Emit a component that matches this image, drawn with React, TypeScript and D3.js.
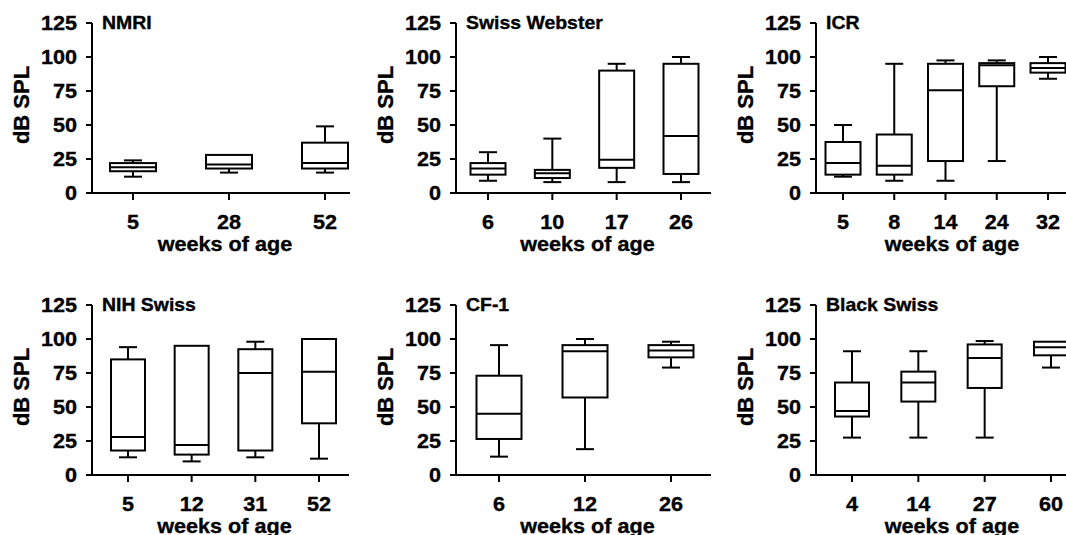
import * as d3 from "d3"
import React from "react"

// five-number summaries: [min, q1, median, q3, max] in dB SPL
const nmriWeeks = ["5", "28", "52"]
const nmriStats = [
  [12, 16, 19, 22, 24],
  [15, 18, 21, 28, 28],
  [15, 18, 22, 37, 49],
]

const swissWebsterWeeks = ["6", "10", "17", "26"]
const swissWebsterStats = [
  [9, 13.5, 18, 22, 30],
  [8, 11, 14.5, 17, 40],
  [8, 18.5, 24.5, 90, 95],
  [8, 14, 42, 95, 100],
]

const icrWeeks = ["5", "8", "14", "24", "32"]
const icrStats = [
  [12, 13.5, 22, 37.5, 50],
  [9, 13.5, 20, 43, 95],
  [9, 23.5, 75.5, 95, 97.5],
  [23.5, 78.5, 94, 95.5, 97.5],
  [84, 88.5, 92, 95.5, 100],
]

const nihWeeks = ["5", "12", "31", "52"]
const nihStats = [
  [13, 18, 28, 85, 94],
  [10, 15, 22, 95, 95],
  [13, 18, 75, 92.5, 98],
  [12, 38, 76, 100, 100],
]

const cf1Weeks = ["6", "12", "26"]
const cf1Stats = [
  [13.5, 26.5, 45, 73, 95.5],
  [19, 57, 91, 95.5, 100],
  [79, 86.5, 91.5, 95.5, 98],
]

const blackSwissWeeks = ["4", "14", "27", "60"]
const blackSwissStats = [
  [27.5, 43, 47, 68, 91],
  [27.5, 54, 68, 76, 91],
  [27.5, 64, 86, 96, 98.5],
  [79, 88, 94, 98, 98],
]

const yTicks = [0, 25, 50, 75, 100, 125]

const panels = [
  { title: "NMRI", weeks: nmriWeeks, stats: nmriStats },
  { title: "Swiss Webster", weeks: swissWebsterWeeks, stats: swissWebsterStats },
  { title: "ICR", weeks: icrWeeks, stats: icrStats },
  { title: "NIH Swiss", weeks: nihWeeks, stats: nihStats },
  { title: "CF-1", weeks: cf1Weeks, stats: cf1Stats },
  { title: "Black Swiss", weeks: blackSwissWeeks, stats: blackSwissStats },
]

// pixel frame of each panel
const frames = [
  { left: 92, right: 350, top: 23, bottom: 193, first: 133, last: 325, boxW: 46 },
  { left: 456, right: 711, top: 23, bottom: 193, first: 488, last: 681, boxW: 35 },
  { left: 816, right: 1080, top: 23, bottom: 193, first: 843, last: 1048, boxW: 35 },
  { left: 92, right: 349, top: 305, bottom: 475, first: 128, last: 319, boxW: 34 },
  { left: 456, right: 711, top: 305, bottom: 475, first: 499, last: 671, boxW: 45 },
  { left: 816, right: 1080, top: 305, bottom: 475, first: 852, last: 1051, boxW: 34 },
]

const FONT = "'Liberation Sans', Arial, Helvetica, sans-serif"
const SX = 1.08

const Label = ({ x, y, size, anchor = "middle", dy = "0", children }) => (
  <text
    transform={`translate(${x},${y}) scale(${SX},1)`}
    fontSize={size}
    fontWeight="bold"
    textAnchor={anchor}
    dy={dy}
    stroke="#000"
    strokeWidth={0.35}
  >
    {children}
  </text>
)

const Panel = ({ panel, frame }) => {
  const y = d3.scaleLinear().domain([0, 125]).range([frame.bottom, frame.top])
  const x = d3.scalePoint().domain(panel.weeks).range([frame.first, frame.last])
  const cap = 18
  const midY = (frame.top + frame.bottom) / 2

  return (
    <g>
      {/* y axis */}
      <line x1={frame.left} x2={frame.left} y1={y(0)} y2={y(125)} stroke="#000" strokeWidth={2} />
      {yTicks.map((t) => (
        <g key={t}>
          <line x1={frame.left - 6} x2={frame.left} y1={y(t)} y2={y(t)} stroke="#000" strokeWidth={2} />
          <Label x={frame.left - 15} y={y(t)} size={20} anchor="end" dy="0.36em">
            {t}
          </Label>
        </g>
      ))}
      {/* x axis */}
      <line x1={frame.left - 6} x2={frame.right} y1={y(0)} y2={y(0)} stroke="#000" strokeWidth={2} />
      {panel.weeks.map((w) => (
        <g key={w}>
          <line x1={x(w)} x2={x(w)} y1={y(0)} y2={y(0) + 7} stroke="#000" strokeWidth={2} />
          <Label x={x(w)} y={frame.bottom + 36} size={20}>
            {w}
          </Label>
        </g>
      ))}
      {/* boxes */}
      {panel.stats.map((s, i) => {
        const cx = x(panel.weeks[i])
        const [lo, q1, med, q3, hi] = s
        const h = frame.boxW / 2
        return (
          <g key={i} stroke="#000" strokeWidth={2} fill="none">
            {lo < q1 && <line x1={cx} x2={cx} y1={y(lo)} y2={y(q1)} />}
            {lo < q1 && <line x1={cx - cap / 2} x2={cx + cap / 2} y1={y(lo)} y2={y(lo)} />}
            {hi > q3 && <line x1={cx} x2={cx} y1={y(q3)} y2={y(hi)} />}
            {hi > q3 && <line x1={cx - cap / 2} x2={cx + cap / 2} y1={y(hi)} y2={y(hi)} />}
            <rect x={cx - h} y={y(q3)} width={frame.boxW} height={y(q1) - y(q3)} fill="#fff" />
            <line x1={cx - h} x2={cx + h} y1={y(med)} y2={y(med)} />
          </g>
        )
      })}
      {/* titles */}
      <Label x={frame.left + 10} y={frame.top + 6} size={18} anchor="start">
        {panel.title}
      </Label>
      <Label x={(frame.left + frame.right) / 2 + 4} y={frame.bottom + 58} size={20}>
        weeks of age
      </Label>
      <text
        transform={`translate(${frame.left - 63},${midY - 3}) rotate(-90)`}
        fontSize={22}
        fontWeight="bold"
        textAnchor="middle"
        stroke="#000"
        strokeWidth={0.35}
      >
        dB SPL
      </text>
    </g>
  )
}

export default function App() {
  return (
    <svg
      width={1066}
      height={535}
      style={{ position: "absolute", left: 0, top: 0, background: "#fff" }}
      fontFamily={FONT}
    >
      <rect width={1066} height={535} fill="#fff" />
      {panels.map((p, i) => (
        <Panel key={p.title} panel={p} frame={frames[i]} />
      ))}
    </svg>
  )
}
